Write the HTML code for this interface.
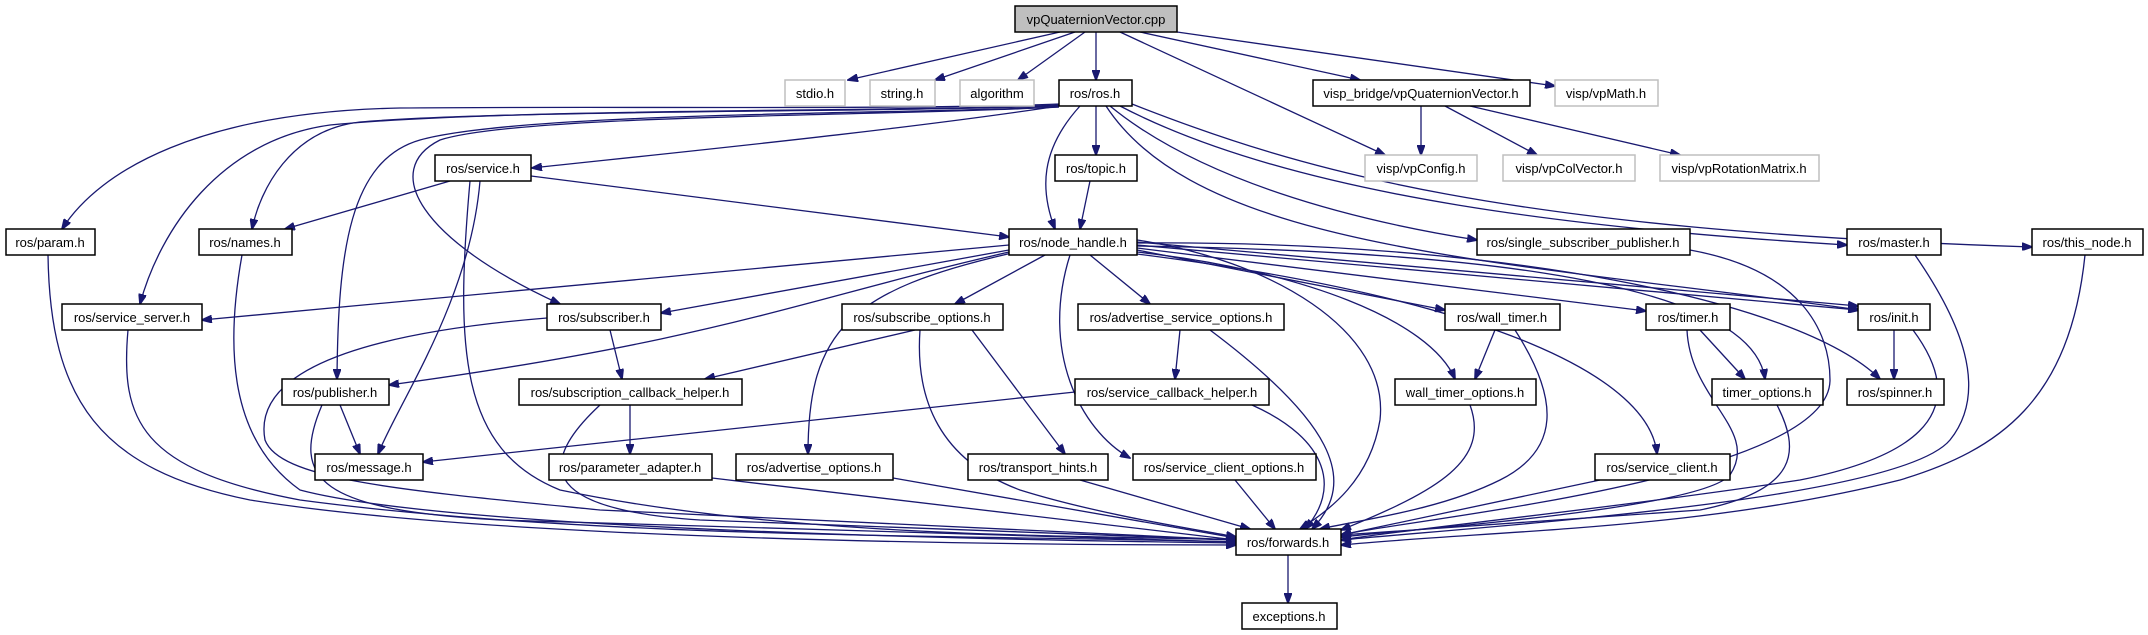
<!DOCTYPE html>
<html><head><meta charset="utf-8"><style>
html,body{margin:0;padding:0;background:#fff;}
svg{display:block;}
text{font-family:"Liberation Sans",sans-serif;font-size:13px;fill:#000;}
.e{fill:none;stroke:#191970;stroke-width:1.3;marker-end:url(#a);}
.b{fill:#fff;stroke:#000;stroke-width:1.5;}
.g{fill:#fff;stroke:#bfbfbf;stroke-width:1.5;}
</style></head><body>
<svg width="2148" height="635" viewBox="0 0 2148 635" xmlns="http://www.w3.org/2000/svg">
<defs><marker id="a" markerWidth="11" markerHeight="8" refX="10" refY="4" orient="auto" markerUnits="userSpaceOnUse"><path d="M0,0 L11,4 L0,8 z" fill="#191970" stroke="#191970"/></marker></defs>
<g>
<path class="e" d="M1060,32 L848,80"/>
<path class="e" d="M1075,32 L935,80"/>
<path class="e" d="M1085,32 L1018,80"/>
<path class="e" d="M1096,32 L1096,80"/>
<path class="e" d="M1140,32 L1360,80"/>
<path class="e" d="M1177,32 L1555,86"/>
<path class="e" d="M1120,32 L1385,155"/>
<path class="e" d="M1421,106 L1421,155"/>
<path class="e" d="M1445,106 L1537,155"/>
<path class="e" d="M1470,106 L1680,155"/>
<path class="e" d="M1096,106 L1096,155"/>
<path class="e" d="M1080,106 C1040,150 1040,190 1055,229"/>
<path class="e" d="M1059,106 C900,130 700,150 532,168"/>
<path class="e" d="M1059,104 C900,110 600,106 400,108 C200,112 100,170 62,229"/>
<path class="e" d="M1059,105 C900,112 500,108 330,125 C220,140 160,230 140,304"/>
<path class="e" d="M1059,106 C900,112 500,110 360,122 C290,130 260,190 252,229"/>
<path class="e" d="M1059,107 C900,114 520,112 420,140 C350,160 338,250 337,379"/>
<path class="e" d="M1059,107 C900,116 520,114 440,140 C380,170 420,240 560,304"/>
<path class="e" d="M1110,106 C1200,180 1350,220 1477,240"/>
<path class="e" d="M1120,106 C1300,200 1600,230 1847,245"/>
<path class="e" d="M1132,104 C1300,170 1500,230 2032,247"/>
<path class="e" d="M1106,106 C1200,250 1500,260 1860,310"/>
<path class="e" d="M450,181 L285,229"/>
<path class="e" d="M531,176 L1009,237"/>
<path class="e" d="M480,181 C470,300 400,400 378,454"/>
<path class="e" d="M470,181 C455,350 460,450 560,490 C800,540 1100,535 1236,540"/>
<path class="e" d="M1090,181 L1080,229"/>
<path class="e" d="M1009,245 L202,320"/>
<path class="e" d="M1009,250 L661,313"/>
<path class="e" d="M1009,252 C800,300 720,340 389,385"/>
<path class="e" d="M1045,255 L955,304"/>
<path class="e" d="M1012,253 C850,290 808,330 808,454"/>
<path class="e" d="M1090,255 L1150,304"/>
<path class="e" d="M1070,255 C1040,350 1080,430 1130,458"/>
<path class="e" d="M1137,250 L1445,310"/>
<path class="e" d="M1137,252 C1300,270 1430,320 1455,379"/>
<path class="e" d="M1137,248 L1646,311"/>
<path class="e" d="M1137,246 C1400,250 1750,270 1765,379"/>
<path class="e" d="M1137,245 L1858,310"/>
<path class="e" d="M1137,242 L1858,306"/>
<path class="e" d="M1137,243 C1500,240 1800,300 1880,379"/>
<path class="e" d="M1137,254 C1500,300 1650,380 1657,454"/>
<path class="e" d="M1137,240 C1270,260 1390,330 1380,420 C1370,480 1330,510 1300,529"/>
<path class="e" d="M1690,250 C1800,270 1830,330 1830,380 C1830,480 1400,520 1341,535"/>
<path class="e" d="M1915,255 C1960,320 1990,390 1950,440 C1900,500 1500,525 1341,540"/>
<path class="e" d="M2085,255 C2070,400 2000,450 1900,480 C1700,530 1500,530 1341,545"/>
<path class="e" d="M1913,330 C1980,420 1900,460 1800,480 C1600,510 1400,530 1341,540"/>
<path class="e" d="M1894,330 L1894,379"/>
<path class="e" d="M1700,330 L1745,379"/>
<path class="e" d="M1687,330 C1690,400 1760,430 1730,475 C1700,510 1400,530 1341,537"/>
<path class="e" d="M1777,405 C1800,450 1800,490 1700,510 L1341,535"/>
<path class="e" d="M1495,330 L1475,379"/>
<path class="e" d="M1515,330 C1560,400 1560,450 1500,480 C1440,510 1360,520 1320,529"/>
<path class="e" d="M1470,405 C1490,460 1440,490 1341,530"/>
<path class="e" d="M1180,330 L1175,379"/>
<path class="e" d="M1210,330 C1330,420 1360,480 1312,529"/>
<path class="e" d="M1075,392 L423,462"/>
<path class="e" d="M1252,405 C1330,440 1340,490 1305,529"/>
<path class="e" d="M1600,480 L1341,535"/>
<path class="e" d="M1235,480 L1275,529"/>
<path class="e" d="M1080,480 L1250,529"/>
<path class="e" d="M972,330 L1065,454"/>
<path class="e" d="M915,330 L705,379"/>
<path class="e" d="M920,330 C915,400 940,460 1020,490 C1100,515 1200,530 1236,537"/>
<path class="e" d="M610,330 L622,379"/>
<path class="e" d="M547,318 C400,330 250,360 265,440 C280,480 400,490 600,510 L1236,540"/>
<path class="e" d="M630,405 L630,454"/>
<path class="e" d="M600,405 C530,470 550,510 700,520 L1236,540"/>
<path class="e" d="M340,405 L360,454"/>
<path class="e" d="M322,405 C290,480 320,510 500,520 L1236,542"/>
<path class="e" d="M712,478 L1236,540"/>
<path class="e" d="M893,478 L1236,538"/>
<path class="e" d="M128,330 C120,420 140,470 300,500 C600,540 1000,535 1236,542"/>
<path class="e" d="M48,255 C50,400 100,470 250,500 C500,540 1000,545 1236,545"/>
<path class="e" d="M242,255 C225,350 230,440 300,490 C450,530 1000,540 1236,543"/>
<path class="e" d="M1288,555 L1288,603"/>
</g>
<g text-anchor="middle">
<rect x="1015" y="6" width="162" height="26" fill="#bfbfbf" stroke="#000" stroke-width="1.5"/><text x="1096" y="24">vpQuaternionVector.cpp</text>
<rect class="g" x="785" y="80" width="60" height="26"/><text x="815" y="98">stdio.h</text>
<rect class="g" x="870" y="80" width="65" height="26"/><text x="902" y="98">string.h</text>
<rect class="g" x="960" y="80" width="74" height="26"/><text x="997" y="98">algorithm</text>
<rect class="b" x="1059" y="80" width="73" height="26"/><text x="1095" y="98">ros/ros.h</text>
<rect class="b" x="1313" y="80" width="217" height="26"/><text x="1421" y="98">visp_bridge/vpQuaternionVector.h</text>
<rect class="g" x="1555" y="80" width="103" height="26"/><text x="1606" y="98">visp/vpMath.h</text>
<rect class="b" x="435" y="155" width="96" height="26"/><text x="483" y="173">ros/service.h</text>
<rect class="b" x="1055" y="155" width="82" height="26"/><text x="1096" y="173">ros/topic.h</text>
<rect class="g" x="1365" y="155" width="112" height="26"/><text x="1421" y="173">visp/vpConfig.h</text>
<rect class="g" x="1503" y="155" width="132" height="26"/><text x="1569" y="173">visp/vpColVector.h</text>
<rect class="g" x="1660" y="155" width="159" height="26"/><text x="1739" y="173">visp/vpRotationMatrix.h</text>
<rect class="b" x="6" y="229" width="89" height="26"/><text x="50" y="247">ros/param.h</text>
<rect class="b" x="199" y="229" width="93" height="26"/><text x="245" y="247">ros/names.h</text>
<rect class="b" x="1009" y="229" width="128" height="26"/><text x="1073" y="247">ros/node_handle.h</text>
<rect class="b" x="1477" y="229" width="213" height="26"/><text x="1583" y="247">ros/single_subscriber_publisher.h</text>
<rect class="b" x="1847" y="229" width="94" height="26"/><text x="1894" y="247">ros/master.h</text>
<rect class="b" x="2032" y="229" width="111" height="26"/><text x="2087" y="247">ros/this_node.h</text>
<rect class="b" x="62" y="304" width="140" height="26"/><text x="132" y="322">ros/service_server.h</text>
<rect class="b" x="547" y="304" width="114" height="26"/><text x="604" y="322">ros/subscriber.h</text>
<rect class="b" x="842" y="304" width="161" height="26"/><text x="922" y="322">ros/subscribe_options.h</text>
<rect class="b" x="1078" y="304" width="206" height="26"/><text x="1181" y="322">ros/advertise_service_options.h</text>
<rect class="b" x="1445" y="304" width="115" height="26"/><text x="1502" y="322">ros/wall_timer.h</text>
<rect class="b" x="1646" y="304" width="84" height="26"/><text x="1688" y="322">ros/timer.h</text>
<rect class="b" x="1858" y="304" width="72" height="26"/><text x="1894" y="322">ros/init.h</text>
<rect class="b" x="282" y="379" width="107" height="26"/><text x="335" y="397">ros/publisher.h</text>
<rect class="b" x="519" y="379" width="223" height="26"/><text x="630" y="397">ros/subscription_callback_helper.h</text>
<rect class="b" x="1075" y="379" width="194" height="26"/><text x="1172" y="397">ros/service_callback_helper.h</text>
<rect class="b" x="1395" y="379" width="141" height="26"/><text x="1465" y="397">wall_timer_options.h</text>
<rect class="b" x="1712" y="379" width="111" height="26"/><text x="1767" y="397">timer_options.h</text>
<rect class="b" x="1847" y="379" width="97" height="26"/><text x="1895" y="397">ros/spinner.h</text>
<rect class="b" x="315" y="454" width="108" height="26"/><text x="369" y="472">ros/message.h</text>
<rect class="b" x="549" y="454" width="163" height="26"/><text x="630" y="472">ros/parameter_adapter.h</text>
<rect class="b" x="736" y="454" width="157" height="26"/><text x="814" y="472">ros/advertise_options.h</text>
<rect class="b" x="968" y="454" width="140" height="26"/><text x="1038" y="472">ros/transport_hints.h</text>
<rect class="b" x="1133" y="454" width="183" height="26"/><text x="1224" y="472">ros/service_client_options.h</text>
<rect class="b" x="1595" y="454" width="135" height="26"/><text x="1662" y="472">ros/service_client.h</text>
<rect class="b" x="1236" y="529" width="105" height="26"/><text x="1288" y="547">ros/forwards.h</text>
<rect class="b" x="1242" y="603" width="95" height="26"/><text x="1289" y="621">exceptions.h</text>
</g>
</svg>
</body></html>
